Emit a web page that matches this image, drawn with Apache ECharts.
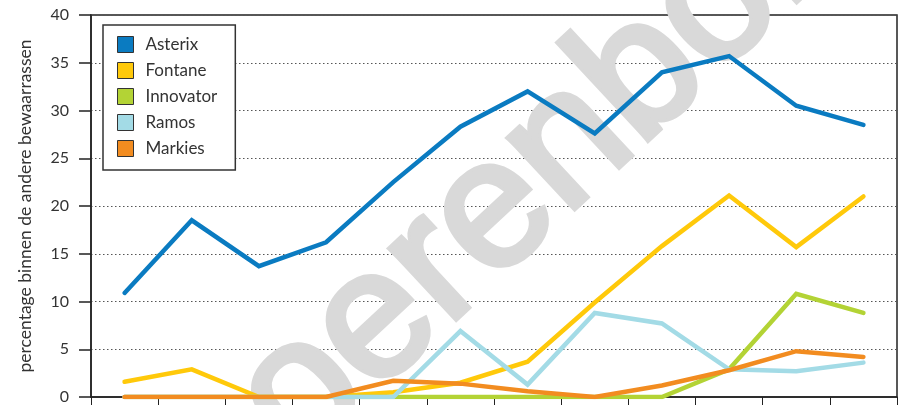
<!DOCTYPE html>
<html>
<head>
<meta charset="utf-8">
<script src="https://cdn.jsdelivr.net/npm/echarts@6/dist/echarts.min.js"></script>
<style>
html,body{margin:0;padding:0;background:#fff;overflow:hidden;}
#chart{width:907px;height:405px;}
</style>
</head>
<body>
<div id="chart"></div>
<script>
const categories = ['1','2','3','4','5','6','7','8','9','10','11','12'];
const asterix   = [10.9, 18.5, 13.7, 16.2, 22.5, 28.3, 32.0, 27.6, 34.0, 35.7, 30.5, 28.5];
const fontane   = [1.6, 2.9, 0, 0, 0.5, 1.5, 3.7, 9.9, 15.8, 21.1, 15.7, 21.0];
const innovator = [0, 0, 0, 0, 0, 0, 0, 0, 0, 2.9, 10.8, 8.8];
const ramos     = [0, 0, 0, 0, 0, 6.9, 1.3, 8.8, 7.7, 2.9, 2.7, 3.6];
const markies   = [0, 0, 0, 0, 1.7, 1.4, 0.6, 0, 1.2, 2.8, 4.8, 4.2];
const seriesNames = ['Asterix', 'Fontane', 'Innovator', 'Ramos', 'Markies'];
const yTicks = [0, 5, 10, 15, 20, 25, 30, 35, 40];
const yTitle = 'percentage binnen de andere bewaarrassen';
const watermark = 'boerenbond';

const colors = ['#0a7bc1', '#ffc90a', '#b3d335', '#a3dbe6', '#f28c20'];
const values = [asterix, fontane, innovator, ramos, markies];
const font = 'Lato, "Open Sans", sans-serif';

const chart = echarts.init(document.getElementById('chart'));
chart.setOption({
  animation: false,
  color: colors,
  grid: {
    left: 91, top: 15, right: 10, bottom: 5,
    show: true, borderColor: '#222', borderWidth: 1.5, backgroundColor: 'transparent'
  },
  graphic: [{
    type: 'text',
    z: 1, zlevel: 0,
    x: 546, y: 166,
    rotation: 43 * Math.PI / 180,
    silent: true,
    style: {
      text: watermark,
      font: '182px "Liberation Sans", Arial, sans-serif',
      fill: '#d9d9d9',
      stroke: '#d9d9d9',
      lineWidth: 6,
      align: 'center',
      verticalAlign: 'middle'
    }
  }],
  legend: {
    data: seriesNames,
    orient: 'vertical',
    left: 103, top: 25,
    padding: [11, 18, 13, 14],
    itemWidth: 16, itemHeight: 16, itemGap: 9,
    icon: 'rect',
    borderColor: '#333', borderWidth: 1.5,
    backgroundColor: '#fff',
    itemStyle: { borderColor: '#333', borderWidth: 1 },
    textStyle: { fontFamily: font, fontSize: 17, lineHeight: 16, color: '#333', padding: [0, 0, 0, 7] }
  },
  xAxis: {
    type: 'category',
    data: categories,
    boundaryGap: true,
    axisLine: { lineStyle: { color: '#222', width: 1.5 } },
    axisTick: { show: true, length: 8, lineStyle: { color: '#222', width: 1 } },
    axisLabel: { show: false },
    splitLine: { show: false }
  },
  yAxis: {
    type: 'value',
    min: 0, max: 40, interval: 5,
    name: yTitle,
    nameLocation: 'middle',
    nameGap: 57,
    nameTextStyle: { fontFamily: font, fontSize: 17.5, color: '#333' },
    axisLine: { show: true, lineStyle: { color: '#222', width: 1.5 } },
    axisTick: { show: true, inside: false, length: 12, lineStyle: { color: '#222', width: 1.5 } },
    axisLabel: {
      margin: 22, fontFamily: font, fontSize: 16, color: '#333',
      formatter: v => yTicks.includes(v) ? String(v) : ''
    },
    splitLine: { show: true, lineStyle: { color: '#555', type: [1.5, 2.5], width: 1 } }
  },
  series: seriesNames.map((name, i) => ({
    name,
    type: 'line',
    data: values[i],
    symbol: 'none',
    smooth: false,
    z: 5 + i,
    lineStyle: { width: 4.5, color: colors[i], cap: 'round', join: 'miter' },
    itemStyle: { color: colors[i] }
  }))
});
</script>
</body>
</html>
